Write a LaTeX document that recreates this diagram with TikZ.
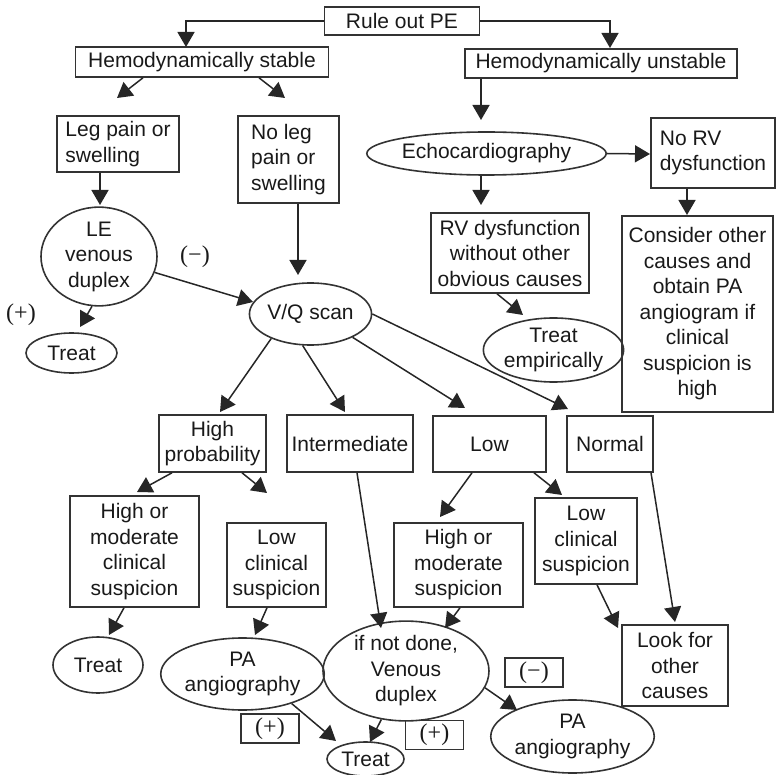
\documentclass[tikz,border=0pt]{standalone}
\usepackage{fontspec}
\setmainfont{Liberation Sans}
\newfontfamily\signfont{Liberation Serif}
\usetikzlibrary{arrows.meta,shapes.geometric}
\begin{document}
\begin{tikzpicture}[x=1pt,y=-1pt,
  every node/.style={font=\fontsize{21}{25.5}\selectfont, text=black!90, inner sep=0pt},
  box/.style={draw=black!80, line width=1.6pt, rectangle, align=center},
  oval/.style={draw=black!80, line width=1.6pt, ellipse, align=center},
  arr/.style={draw=black!85, line width=1.5pt, -{Triangle[length=15pt,width=17pt]}},
  sign/.style={font=\signfont\fontsize{24}{26}\selectfont},
  signbox/.style={box, sign, minimum width=58pt, minimum height=29pt},
]
\useasboundingbox (0,0) rectangle (776,775);

% ---- nodes ----
\node[box, minimum width=155, minimum height=28] (rule) at (402,21) {Rule out PE};
\node[box, minimum width=253, minimum height=30] (stable) at (202,62) {Hemodynamically stable};
\node[box, minimum width=272, minimum height=29] (unstable) at (601,63.5) {Hemodynamically unstable};

\node[box, align=left, minimum width=122, minimum height=56] (leg) at (118,144) {Leg pain or\\swelling};
\node[box, align=left, minimum width=101, minimum height=87] (noleg) at (288.5,159.5) {No leg\\pain or\\swelling};
\node[oval, minimum width=116, minimum height=87] (le) at (99,256.5) {LE\\venous\\duplex};
\node[oval, minimum width=91, minimum height=40] (treat1) at (71.5,353) {Treat};
\node[oval, minimum width=115, minimum height=62] (vq) at (310.5,314) {V/Q scan};

\node[oval, minimum width=209, minimum height=43] (echo) at (486.5,153.5) {Echocardiography};
\node[box, align=left, minimum width=124, minimum height=70] (norv) at (713,153) {No RV\\dysfunction};
\node[box, minimum width=158, minimum height=80] (rv) at (510,253) {RV dysfunction\\without other\\obvious causes};
\node[oval, minimum width=127, minimum height=64] (temp) at (553.5,350) {Treat\\empirically};
\node[box, minimum width=151, minimum height=196] (consider) at (697.5,314) {Consider other\\causes and\\obtain PA\\angiogram if\\clinical\\suspicion is\\high};

\node[box, minimum width=107, minimum height=57] (hp) at (212.5,443.5) {High\\probability};
\node[box, minimum width=126, minimum height=57] (int) at (350,443.5) {Intermediate};
\node[box, minimum width=113, minimum height=56] (low) at (489.5,444) {Low};
\node[box, minimum width=86, minimum height=56] (normal) at (610,444) {Normal};

\node[box, minimum width=129, minimum height=111] (hmcs) at (134.5,551.5) {High or\\moderate\\clinical\\suspicion};
\node[box, minimum width=99, minimum height=84] (lcs1) at (276.5,565) {Low\\clinical\\suspicion};
\node[box, minimum width=129, minimum height=84] (hms) at (458.5,565) {High or\\moderate\\suspicion};
\node[box, minimum width=102, minimum height=86] (lcs2) at (586,541) {Low\\clinical\\suspicion};

\node[oval, minimum width=90, minimum height=56] (treat2) at (98,665) {Treat};
\node[oval, minimum width=139, minimum height=72] (pa1) at (242.5,674) {PA\\angiography};
\node[oval, minimum width=166, minimum height=92] (ind) at (406,671) {if not done,\\Venous\\duplex};
\node[box, minimum width=106, minimum height=81] (look) at (675,665.5) {Look for\\other\\causes};
\node[oval, minimum width=139, minimum height=73] (pa2) at (572.5,736.5) {PA\\angiography};
\node[oval, minimum width=77, minimum height=34] (treat3) at (365.5,759) {Treat};

% ---- result signs ----
\node[sign] (neg1) at (195,257) {(−)};
\node[sign] (pos1) at (21,315) {(+)};
\node[signbox] (pos2) at (270,728.5) {(+)};
\node[signbox] (neg2) at (534,672.5) {(−)};
\node[signbox] (pos3) at (434.5,735) {(+)};

% ---- arrow tips ----
\coordinate (tStable) at (186,47);
\coordinate (tUnstable) at (610,48);
\coordinate (tLeg) at (117,98);
\coordinate (tNoLeg) at (285,98);
\coordinate (tLE) at (100,205);
\coordinate (tVQtop) at (298,275);
\coordinate (tTreat1) at (80,327);
\coordinate (tVQside) at (253,302);
\coordinate (tEcho) at (481,120);
\coordinate (tNoRV) at (650,154);
\coordinate (tRV) at (481,205);
\coordinate (tConsider) at (687,215);
\coordinate (tTemp) at (523,315);
\coordinate (tHP) at (220,412);
\coordinate (tInt) at (345,412);
\coordinate (tLow) at (465,408);
\coordinate (tNormal) at (568,409);
\coordinate (tHMCS) at (137,492);
\coordinate (tLCS1) at (267,493);
\coordinate (tTreat2) at (109,635);
\coordinate (tPA1) at (255,635);
\coordinate (tIndL) at (381,628);
\coordinate (tHMS) at (440,517);
\coordinate (tLCS2) at (562,495);
\coordinate (tLookN) at (675,622);
\coordinate (tIndR) at (445,628);
\coordinate (tLookL) at (618,628);
\coordinate (tTreat3a) at (336,741);
\coordinate (tTreat3b) at (370,742);
\coordinate (tPA2) at (517,710);

% ---- connectors ----
\draw[arr] (rule.west) -| (tStable);
\draw[arr] (rule.east) -| (tUnstable);
\draw[arr] (stable.south -| 143,0) -- (tLeg);
\draw[arr] (stable.south -| 259,0) -- (tNoLeg);
\draw[arr] (leg.south -| 100,0) -- (tLE);
\draw[arr] (noleg.south -| 298,0) -- (tVQtop);
\draw[arr] (le.-98) -- (tTreat1);
\draw[arr] (le.-16) -- (tVQside);

\draw[arr] (unstable.south -| 481,0) -- (tEcho);
\draw[arr] (echo.east) -- (tNoRV);
\draw[arr] (echo.south -| 481,0) -- (tRV);
\draw[arr] (norv.south -| 687,0) -- (tConsider);
\draw[arr] (rv.south -| 497,0) -- (tTemp);

\draw[arr] (vq.-148) -- (tHP);
\draw[arr] (vq.-104) -- (tInt);
\draw[arr] (vq.-29) -- (tLow);
\draw[arr] (vq.east) -- (tNormal);

\draw[arr] (hp.south -| 172,0) -- (tHMCS);
\draw[arr] (hp.south -| 242,0) -- (tLCS1);
\draw[arr] (hmcs.south -| 124,0) -- (tTreat2);
\draw[arr] (lcs1.south -| 267,0) -- (tPA1);
\draw[arr] (int.south -| 357,0) -- (tIndL);
\draw[arr] (low.south -| 472,0) -- (tHMS);
\draw[arr] (low.south -| 534,0) -- (tLCS2);
\draw[arr] (normal.south -| 651,0) -- (tLookN);
\draw[arr] (hms.south -| 460,0) -- (tIndR);
\draw[arr] (lcs2.south -| 597,0) -- (tLookL);

\draw[arr] (pa1.-31) -- (tTreat3a);
\draw[arr] (ind.-117) -- (tTreat3b);
\draw[arr] (ind.-12) -- (tPA2);
\end{tikzpicture}
\end{document}
